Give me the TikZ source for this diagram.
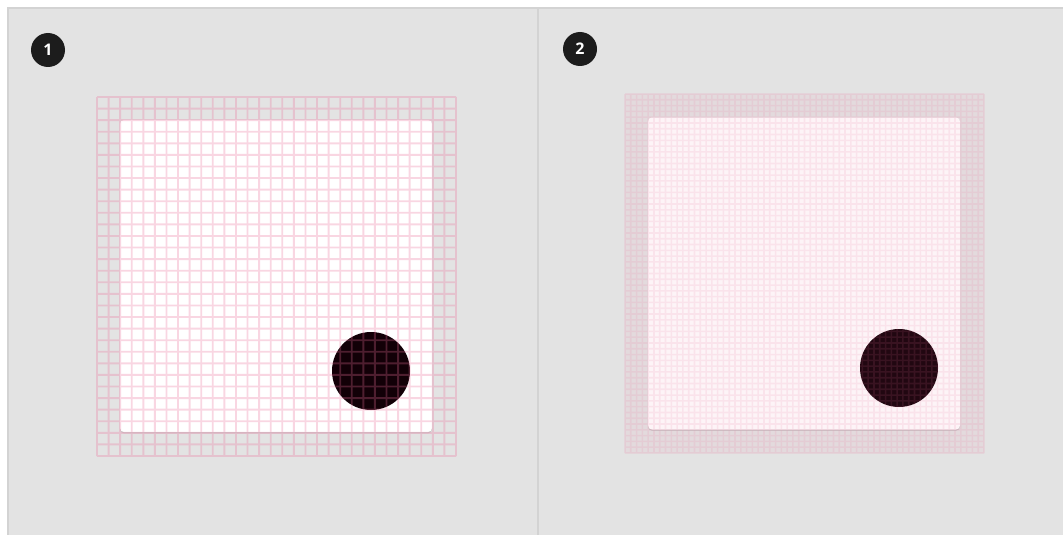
\documentclass[tikz,border=0pt]{standalone}
\usepackage{fontspec}
\setsansfont{Open Sans}
\usetikzlibrary{calc, positioning}
\usetikzlibrary{shadows}

\definecolor{panelgrey}{HTML}{E3E3E3}
\definecolor{panelline}{HTML}{D3D3D3}
\definecolor{keypink}{HTML}{EC6F9A}
\definecolor{fabdark}{HTML}{120007}
\definecolor{badgedark}{HTML}{1C1C1C}

\begin{document}
\begin{tikzpicture}[x=0.75pt, y=-0.75pt,
    badge/.style={circle, fill=badgedark, minimum size=25.5pt, inner sep=0pt,
        text=white, font=\sffamily\bfseries\large},
    card/.style={rectangle, rounded corners=3pt, fill=white, minimum size=234pt,
        inner sep=0pt, drop shadow={opacity=0.25, shadow xshift=0pt, shadow yshift=-1pt}},
    fab/.style={circle, fill=fabdark, minimum size=58.5pt, inner sep=0pt},
    gridline/.style={draw=keypink, line width=1.4pt}]
\def\cellA{11.58}
\def\cellB{5.79}
\def\gridL{359}

\useasboundingbox (0,0) rectangle (1063,535);

% panels
\draw[panelline, line width=1.5pt, fill=panelgrey] (8,8) rectangle (1075,545);
\draw[panelline, line width=1.5pt] (538,8) -- (538,535);

% step 1
\node[badge] (stepA) at (48,50) {1};
\node[card] (cardA) at (276,276) {};
\node[fab] (fabA) at (371,371) {};
\begin{scope}[transparency group, opacity=0.28]
\foreach \i in {0,...,31}{
    \draw[gridline] (97+\i*\cellA,97) -- ++(0,\gridL);
    \draw[gridline] (97,97+\i*\cellA) -- ++(\gridL,0);
}
\end{scope}

% step 2
\node[badge] (stepB) at (580,49) {2};
\node[card] (cardB) at (804,273.5) {};
\node[fab] (fabB) at (899,368) {};
\begin{scope}[transparency group, opacity=0.07]
\fill[keypink] (625,94) rectangle ++(\gridL,\gridL);
\end{scope}
\begin{scope}[transparency group, opacity=0.12]
\foreach \i in {0,...,62}{
    \draw[gridline, line width=1.2pt] (625+\i*\cellB,94) -- ++(0,\gridL);
    \draw[gridline, line width=1.2pt] (625,94+\i*\cellB) -- ++(\gridL,0);
}
\end{scope}
\end{tikzpicture}
\end{document}
